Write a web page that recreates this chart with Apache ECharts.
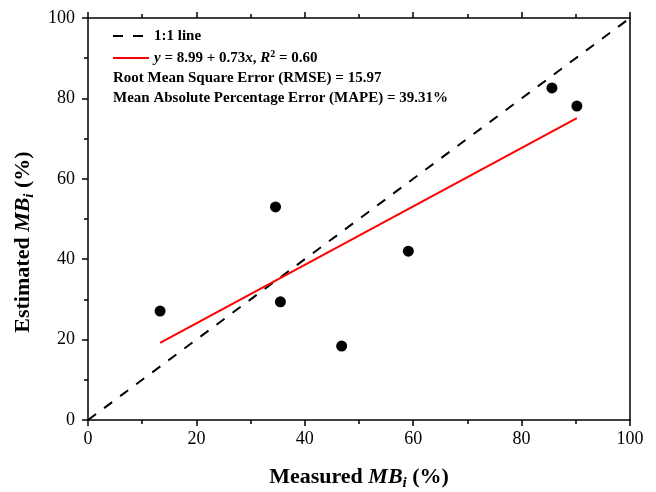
<!DOCTYPE html>
<html>
<head>
<meta charset="utf-8">
<script src="https://cdn.jsdelivr.net/npm/echarts@6/dist/echarts.min.js"></script>
<style>html,body{margin:0;padding:0;background:#fff;}#c{width:656px;height:492px;}</style>
</head>
<body>
<div id="c"></div>
<script>
// Data
var measured = [13.3, 34.6, 35.5, 46.8, 59.1, 85.6, 90.2];
var estimated = [27.1, 53.0, 29.4, 18.4, 42.0, 82.6, 78.1];
var oneToOneLine = [[0, 0], [100, 100]];
var fitLine = [[13.3, 19.2], [90.2, 75.1]];
var axisTicks = [0, 20, 40, 60, 80, 100];
var statsText = [
  'Root Mean Square Error (RMSE) = 15.97',
  'Mean Absolute Percentage Error (MAPE) = 39.31%'
];

var serif = '"Liberation Serif", "Times New Roman", serif';
var points = measured.map(function (m, i) { return [m, estimated[i]]; });

var nameRich = {
  b: { fontFamily: serif, fontWeight: 'bold', fontSize: 22, color: '#000', lineHeight: 26 },
  i: { fontFamily: serif, fontWeight: 'bold', fontStyle: 'italic', fontSize: 22, color: '#000', lineHeight: 26 },
  sub: { fontFamily: serif, fontWeight: 'bold', fontStyle: 'italic', fontSize: 15, color: '#000', lineHeight: 15, padding: [12, 0, 0, 0] }
};

var chart = echarts.init(document.getElementById('c'), null, { renderer: 'canvas' });
function baseAxis() {
  return {
    type: 'value', min: 0, max: 100, interval: 20,
    axisLine: { show: true, onZero: false, lineStyle: { color: '#000', width: 1.5 } },
    splitLine: { show: false }
  };
}
var tickStyle = { show: true, inside: false, length: 6, lineStyle: { color: '#000', width: 1.5 } };
var minorStyle = { show: true, splitNumber: 2, length: 4, lineStyle: { color: '#000', width: 1.5 } };
function labelStyle(m) {
  return { fontFamily: serif, fontSize: 18, color: '#000', margin: m,
    formatter: function (v) { return axisTicks.indexOf(v) >= 0 ? String(v) : ''; } };
}

chart.setOption({
  animation: false,
  backgroundColor: '#fff',
  grid: { left: 88, right: 26, top: 18, bottom: 72, containLabel: false, outerBoundsMode: 'none' },
  xAxis: [
    Object.assign(baseAxis(), {
      position: 'bottom',
      name: '{b|Measured }{i|MB}{sub|i}{b| (%)}',
      nameLocation: 'middle', nameGap: 44,
      nameTextStyle: { rich: nameRich },
      axisTick: tickStyle, minorTick: minorStyle, axisLabel: labelStyle(10)
    }),
    Object.assign(baseAxis(), {
      position: 'top',
      axisTick: tickStyle, minorTick: minorStyle,
      axisLabel: { show: false }
    })
  ],
  yAxis: [
    Object.assign(baseAxis(), {
      position: 'left',
      name: '{b|Estimated }{i|MB}{sub|i}{b| (%)}',
      nameLocation: 'middle', nameGap: 41, nameRotate: 90,
      nameTextStyle: { rich: nameRich, padding: [0, 46, 0, 0] },
      axisTick: tickStyle, minorTick: minorStyle, axisLabel: labelStyle(13)
    }),
    Object.assign(baseAxis(), {
      position: 'right',
      axisTick: { show: false },
      axisLabel: { show: false }
    })
  ],
  legend: {
    orient: 'vertical', left: 112, top: 26, padding: 0,
    itemWidth: 36, itemHeight: 14, itemGap: 2,
    data: ['1:1 line', 'fit'],
    itemStyle: { opacity: 0 },
    textStyle: {
      fontFamily: serif, fontWeight: 'bold', fontSize: 15, color: '#000', lineHeight: 20,
      rich: {
        b: { fontFamily: serif, fontWeight: 'bold', fontSize: 15, color: '#000', lineHeight: 20 },
        i: { fontFamily: serif, fontWeight: 'bold', fontStyle: 'italic', fontSize: 15, color: '#000', lineHeight: 20 },
        sup: { fontFamily: serif, fontWeight: 'bold', fontSize: 10, color: '#000', lineHeight: 10, padding: [0, 0, 8, 0] }
      }
    },
    formatter: function (name) {
      if (name === 'fit') return '{i|y}{b| = 8.99 + 0.73}{i|x}{b|, }{i|R}{sup|2}{b| = 0.60}';
      return '{b|' + name + '}';
    }
  },
  graphic: statsText.map(function (t, k) {
    return {
      type: 'text', left: 113, top: 71 + k * 20,
      style: { text: t, font: 'bold 15px ' + serif, fill: '#000' }
    };
  }),
  series: [
    {
      name: '1:1 line', type: 'line', data: oneToOneLine, symbol: 'none',
      lineStyle: { color: '#000', width: 2, type: [10, 10] }, z: 3
    },
    {
      name: 'fit', type: 'line', data: fitLine, symbol: 'none',
      lineStyle: { color: '#ff0000', width: 2 }, z: 4
    },
    {
      name: 'data', type: 'scatter', data: points, symbol: 'circle', symbolSize: 11,
      itemStyle: { color: '#000', opacity: 1 }, z: 5
    }
  ]
});
</script>
</body>
</html>
